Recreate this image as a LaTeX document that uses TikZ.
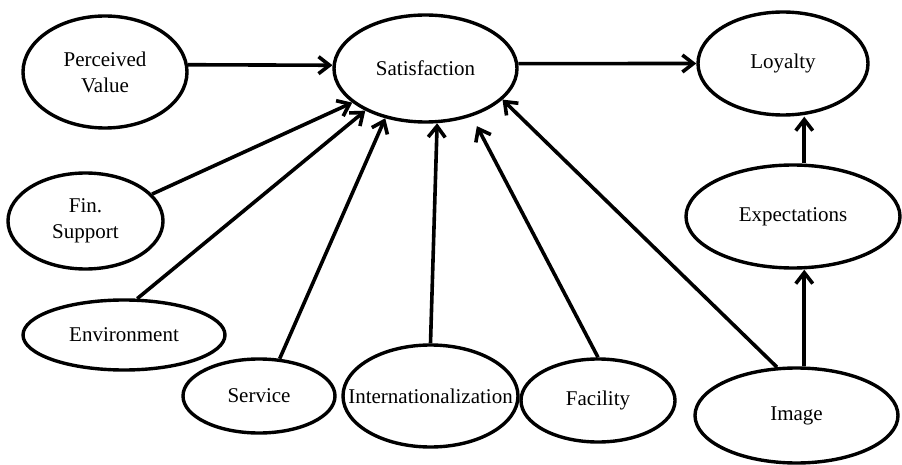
\documentclass[tikz,border=0pt]{standalone}
\usepackage{fontspec}
\setmainfont{Liberation Serif}
\usepackage{tikz}
\usetikzlibrary{arrows.meta, shapes.geometric}

\begin{document}
\begin{tikzpicture}[
        x=1pt, y=-1pt,
        oval/.style = {draw, ellipse, line width=3.4pt, inner sep=0pt, align=center, font=\fontsize{21}{26}\selectfont},
        arrow/.style = {-{Straight Barb[length=11pt, width=17pt]}, line width=3.6pt},
    ]
        \useasboundingbox (0,0) rectangle (902,465);
        \node[oval, minimum width=164pt, minimum height=112pt] (pv) at (105,72) {Perceived\\Value};
        \node[oval, minimum width=183pt, minimum height=107pt] (sat) at (425.5,68.5) {Satisfaction};
        \node[oval, minimum width=170pt, minimum height=103pt] (loy) at (783,63.5) {Loyalty};
        \node[oval, minimum width=155pt, minimum height=96pt] (fin) at (85.5,221) {Fin.\\Support};
        \node[oval, minimum width=202pt, minimum height=70pt] (env) at (124,335) {Environment};
        \node[oval, minimum width=152pt, minimum height=74pt] (svc) at (259,396) {Service};
        \node[oval, minimum width=175pt, minimum height=102pt, inner xsep=-24pt] (intl) at (430.5,396) {Internationalization};
        \node[oval, minimum width=154pt, minimum height=83pt] (fac) at (598,400.5) {Facility};
        \node[oval, minimum width=203pt, minimum height=95pt] (img) at (796.5,415.5) {Image};
        \node[oval, minimum width=214pt, minimum height=103pt] (exp) at (793,216.5) {Expectations};
        % paths into satisfaction
        \draw[arrow] (pv.5) -- (sat.178);
        \draw[arrow] (fin.22) -- (sat.205);
        \draw[arrow] (env.70) -- (sat.215);
        \draw[arrow] (svc.61) -- (sat.231);
        \draw[arrow] (intl.north) -- (sat.282);
        \draw[arrow, shorten >=11pt] (fac.north) -- (sat.314);
        \draw[arrow] (img.112) -- (sat.338);
        % right column
        \draw[arrow] (sat.3) -- (loy.west);
        \draw[arrow] (img.81) -- (img.81 |- exp.south);
        \draw[arrow] (img.81 |- exp.north) -- (img.81 |- loy.south);
    \end{tikzpicture}
\end{document}
